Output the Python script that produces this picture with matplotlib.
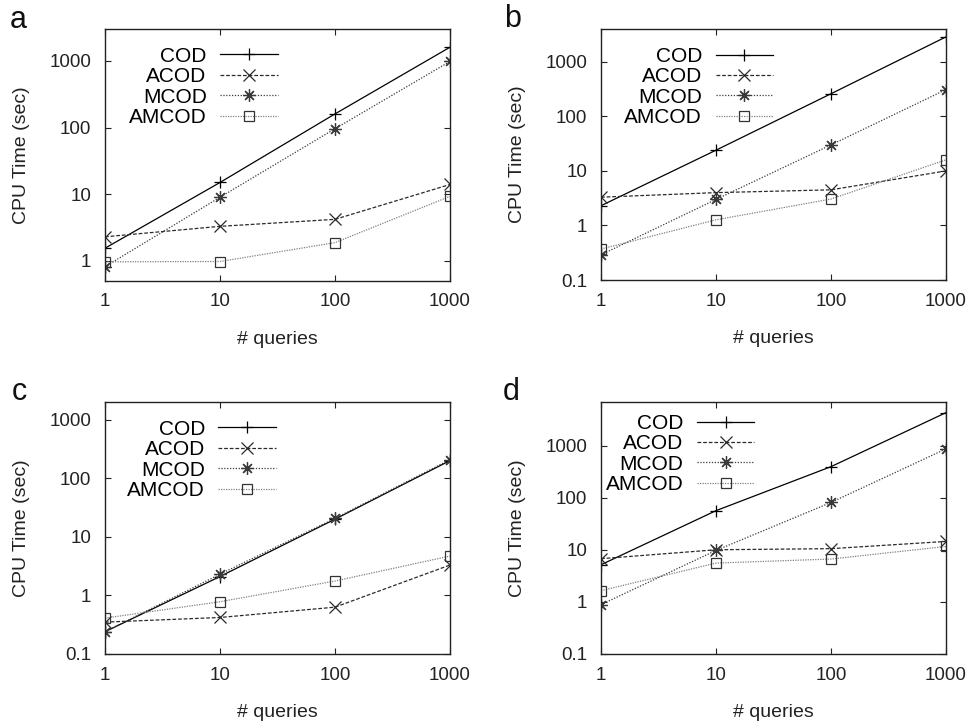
import matplotlib
matplotlib.use("Agg")
import matplotlib.pyplot as plt
from matplotlib.ticker import FixedLocator, FixedFormatter, NullLocator

plt.rcParams['font.family'] = ['Liberation Sans', 'DejaVu Sans']

queries = [1, 10, 100, 1000]
series_names = ["COD", "ACOD", "MCOD", "AMCOD"]

# panel a
a_cod = [1.55, 15, 160, 1600]
a_acod = [2.3, 3.3, 4.2, 14]
a_mcod = [0.82, 9, 96, 980]
a_amcod = [0.97, 0.98, 1.88, 9.3]

# panel b
b_cod = [2.3, 24, 260, 2870]
b_acod = [3.3, 4.0, 4.5, 10]
b_mcod = [0.29, 3.0, 30, 310]
b_amcod = [0.37, 1.27, 3.05, 16]

# panel c
c_cod = [0.24, 2.1, 20, 200]
c_acod = [0.35, 0.42, 0.63, 3.3]
c_mcod = [0.24, 2.3, 20.6, 208]
c_amcod = [0.41, 0.78, 1.76, 4.7]

# panel d
d_cod = [5.2, 57, 400, 4370]
d_acod = [6.8, 10.1, 10.6, 14.6]
d_mcod = [0.89, 9.8, 82, 880]
d_amcod = [1.65, 5.6, 6.7, 11.7]

panel_letters = ["a", "b", "c", "d"]
x_ticks = [1, 10, 100, 1000]
x_ticklabels = ["1", "10", "100", "1000"]
y_ticks_a = [1, 10, 100, 1000]
y_ticklabels_a = ["1", "10", "100", "1000"]
y_ticks_bcd = [0.1, 1, 10, 100, 1000]
y_ticklabels_bcd = ["0.1", "1", "10", "100", "1000"]
ylims = [(0.5, 3000), (0.1, 4000), (0.1, 2000), (0.1, 7000)]

data = [
    [a_cod, a_acod, a_mcod, a_amcod],
    [b_cod, b_acod, b_mcod, b_amcod],
    [c_cod, c_acod, c_mcod, c_amcod],
    [d_cod, d_acod, d_mcod, d_amcod],
]

styles = [
    dict(color='black', linestyle='-', marker='+', markersize=9, mew=0.9),
    dict(color='#2a2a2a', linestyle=(0, (3.0, 1.5)), marker='x', markersize=8, mew=0.9),
    dict(color='#3a3a3a', linestyle=(0, (1.0, 1.3)), marker=(8, 2, 0), markersize=9, mew=0.9),
    dict(color='#808080', linestyle=(0, (1.0, 1.0)), marker='s', markersize=7.5, mew=0.9,
         markerfacecolor='none', markeredgecolor='#333333'),
]

fig = plt.figure(figsize=(9.72, 7.22), dpi=100)

positions = [
    (105, 29, 450, 281),
    (601, 29, 946, 280),
    (105, 402, 450, 654),
    (601, 402, 946, 654),
]
legend_anchor = [(0.50, 0.93), (0.498, 0.929), (0.495, 0.93), (0.444, 0.953)]
letter_pos = [(10, 28), (504, 27), (12, 400), (503, 400)]

W, H = 972.0, 722.0
for i in range(4):
    l, t, r, b = positions[i]
    ax = fig.add_axes([l / W, 1 - b / H, (r - l) / W, (b - t) / H])
    ax.set_xscale('log')
    ax.set_yscale('log')
    for name, vals, st in zip(series_names, data[i], styles):
        ax.plot(queries, vals, label=name, linewidth=0.9, **st)
    ax.set_xlim(1, 1000)
    ax.set_ylim(*ylims[i])
    ax.xaxis.set_major_locator(FixedLocator(x_ticks))
    ax.xaxis.set_major_formatter(FixedFormatter(x_ticklabels))
    ax.xaxis.set_minor_locator(NullLocator())
    if i == 0:
        ax.yaxis.set_major_locator(FixedLocator(y_ticks_a))
        ax.yaxis.set_major_formatter(FixedFormatter(y_ticklabels_a))
    else:
        ax.yaxis.set_major_locator(FixedLocator(y_ticks_bcd))
        ax.yaxis.set_major_formatter(FixedFormatter(y_ticklabels_bcd))
    ax.yaxis.set_minor_locator(NullLocator())
    ax.tick_params(direction='in', length=4, width=0.8, top=True, right=True,
                   labelsize=13.5, colors='#222222')
    ax.tick_params(axis='y', pad=10)
    ax.tick_params(axis='x', pad=9)
    for sp in ax.spines.values():
        sp.set_linewidth(1.0)
        sp.set_color('#222222')
    ax.set_xlabel("# queries", fontsize=14, color='#222222')
    ax.set_ylabel("CPU Time (sec)", fontsize=14, color='#222222')
    ax.xaxis.set_label_coords(0.5, -0.20)
    ax.yaxis.set_label_coords(-0.216, 0.5)
    ax.legend(loc='upper right', bbox_to_anchor=legend_anchor[i], frameon=False,
              markerfirst=False, fontsize=15, handlelength=2.75, handletextpad=0.65,
              labelspacing=0.07, borderpad=0, borderaxespad=0)
    lx, ly = letter_pos[i]
    fig.text(lx / W, 1 - ly / H, panel_letters[i], fontsize=22, va='baseline', ha='left',
             color='#111111')

fig.savefig("out.png", dpi=100)
